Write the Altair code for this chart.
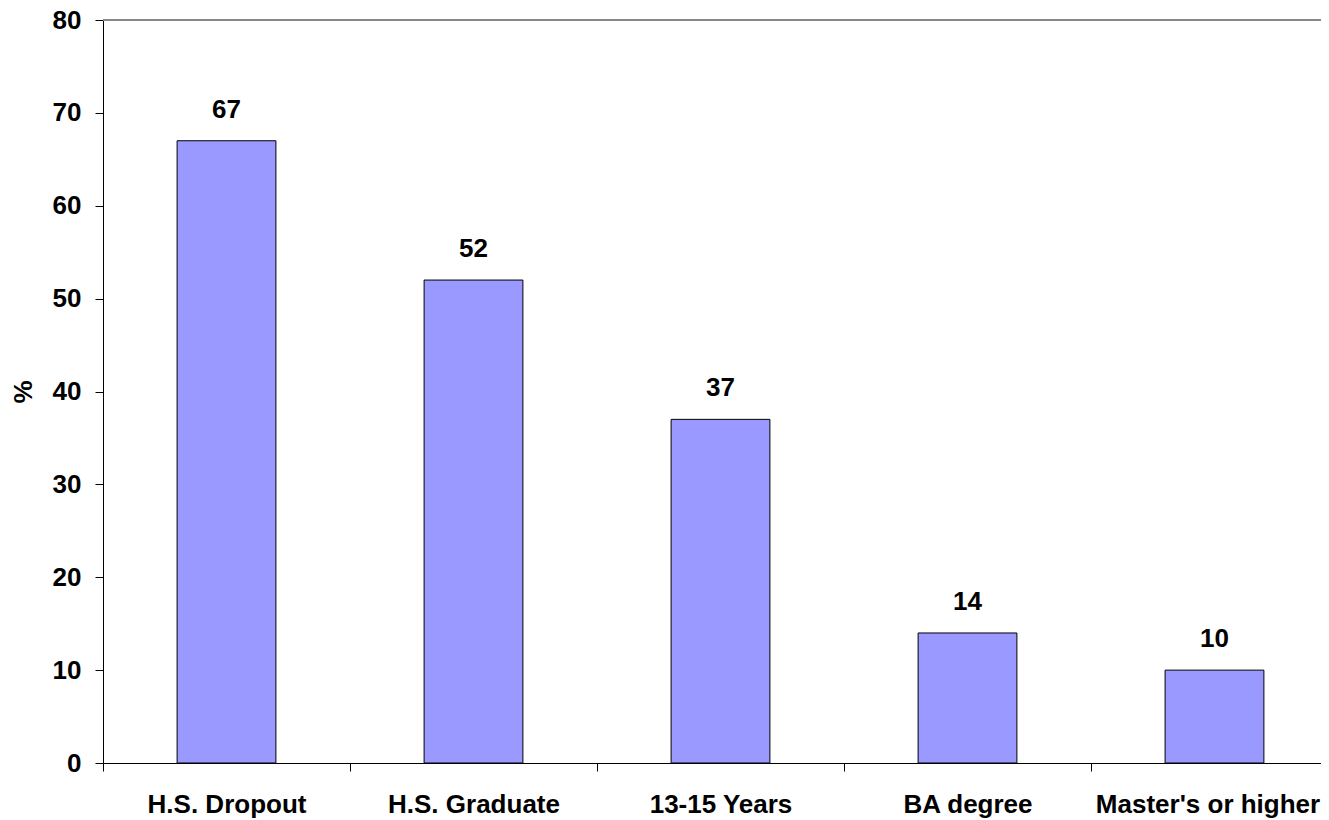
import altair as alt
import pandas as pd

categories = ["H.S. Dropout", "H.S. Graduate", "13-15 Years", "BA degree", "Master's or higher"]
values = [67, 52, 37, 14, 10]

df = pd.DataFrame({"cat": categories, "val": values})

FONT = "Liberation Sans"
FS = 26

base = alt.Chart(df).encode(
    x=alt.X("cat:N", sort=categories, title=None,
            scale=alt.Scale(paddingInner=0, paddingOuter=0),
            axis=alt.Axis(labelAngle=0, tickBand="extent", tickSize=8, tickColor="#000",
                          domainColor="#000", labelFont=FONT, labelFontSize=FS,
                          labelFontWeight="bold", labelColor="#000", labelPadding=20,
                          labelLimit=0,
                          labelOffset={"condition": {"test": "datum.index == 1", "value": -7},
                                       "value": 0})),
    y=alt.Y("val:Q", title="%", scale=alt.Scale(domain=[0, 80], nice=False),
            axis=alt.Axis(values=[0, 10, 20, 30, 40, 50, 60, 70, 80], grid=False,
                          tickSize=8, tickColor="#000", domainColor="#000",
                          labelFont=FONT, labelFontSize=FS, labelFontWeight="bold",
                          labelColor="#000", labelPadding=14,
                          titleFont=FONT, titleFontSize=FS, titleFontWeight="bold",
                          titleColor="#000", titlePadding=16)),
)

bars = base.mark_bar(color="#9999FF", stroke="#000", strokeWidth=1,
                     width=alt.RelativeBandSize(0.4))
labels = base.mark_text(dy=-18, baseline="bottom", font=FONT, fontSize=FS,
                        fontWeight="bold", color="#000").encode(text="val:Q")

topline = alt.Chart(df).mark_rule(color="#888888", strokeWidth=2).encode(
    x=alt.value(0), x2=alt.value(1235), y=alt.value(0))

chart = (topline + bars + labels).properties(
    width=1235, height=743,
    autosize=alt.AutoSizeParams(type="none"),
    padding={"left": 95, "top": 12, "right": -17, "bottom": 55},
).configure_view(stroke=None)

chart.save("out.html", embed_options={"renderer": "svg", "actions": False})
